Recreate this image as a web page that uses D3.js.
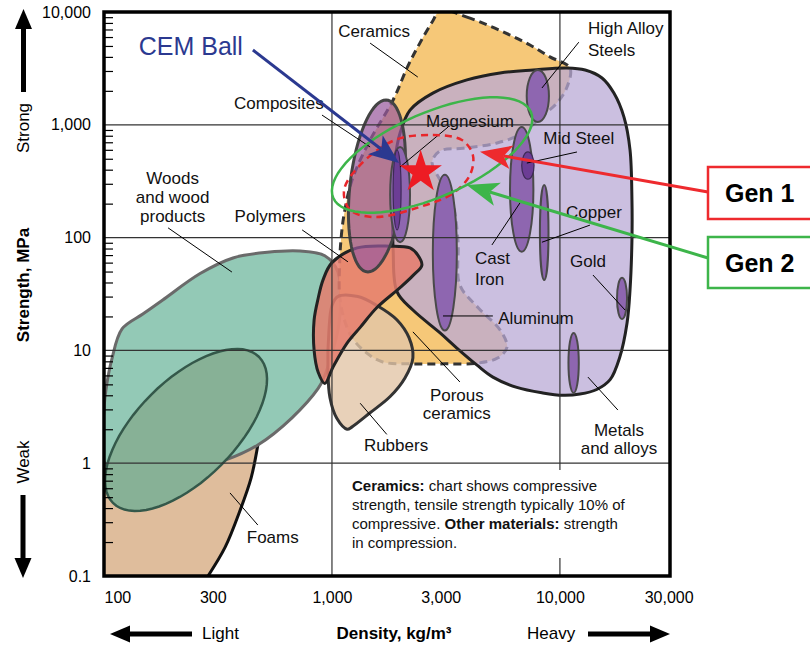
<!DOCTYPE html>
<html>
<head>
<meta charset="utf-8">
<script src="https://cdn.jsdelivr.net/npm/d3@7"></script>
<style>
  body { margin: 0; background: #fff; }
  svg { font-family: "Liberation Sans", Arial, Helvetica, sans-serif; }
</style>
</head>
<body>
<svg id="chart" width="810" height="646"></svg>
<script>
// Axis ticks and grid
const densityTicks = [100, 300, 1000, 3000, 10000, 30000];
const strengthTicks = [0.1, 1, 10, 100, 1000, 10000];
const densityGrid = [1000, 10000];
const strengthGrid = [1, 10, 100, 1000];

// Material regions as [density kg/m3, strength MPa]
const foams = [[100, 1.0], [100, 0.1], [286, 0.1], [340, 0.18], [395, 0.38], [442, 0.74], [473, 1.45], [357, 1.6], [159, 1.3]];
const foamsEdge = [[286, 0.1], [340, 0.18], [395, 0.38], [442, 0.74], [473, 1.45]];
const woods = [[101, 1.0], [100, 3], [103, 5.1], [108, 8.2], [120, 15.5], [148, 21], [181, 28], [264, 48], [368, 66],
  [520, 74], [724, 76], [930, 69], [1060, 50], [1080, 19], [980, 8.2], [870, 4.6], [473, 1.45], [238, 0.87], [130, 0.79]];
const woodsCore = { c: [229, 1.97], a: [479, 8.74], b: [326, 0.96] };
const ceramics = [[3000, 10400], [3910, 9000], [4930, 7500], [6040, 6250], [7390, 5100], [9040, 4000], [11060, 3190],
  [10740, 2160], [9700, 1560], [8170, 1150], [6890, 845], [5300, 690], [3760, 620], [2980, 586], [2750, 468],
  [2980, 324], [3360, 215], [3570, 95], [3640, 38], [4370, 24], [5460, 15.2], [5860, 10.7], [5350, 8.6], [4330, 7.7],
  [3130, 7.6], [2270, 7.6], [1670, 7.9], [1400, 9.7], [1225, 13], [1130, 19], [1080, 31], [1080, 57], [1095, 95],
  [1130, 160], [1225, 324], [1470, 733], [1855, 1660], [2150, 3300], [2430, 5300], [2750, 8150]];
const rubbers = [[1060, 30], [1300, 30], [1575, 25], [1930, 18.6], [2180, 12.9], [2265, 8.6], [2090, 5.7], [1800, 3.9],
  [1470, 2.8], [1225, 2.1], [1165, 2.0], [1050, 2.5], [980, 3.8], [960, 6.7], [970, 15], [1000, 25]];
const metals = [[1990, 845], [2200, 1350], [2770, 1910], [3910, 2500], [5460, 2880], [7620, 3060], [10740, 3190],
  [12900, 3060], [15300, 2600], [17250, 1910], [19100, 1170], [20300, 600], [20700, 215], [20700, 95], [20300, 34.3],
  [19700, 17.5], [18300, 8.7], [16600, 5.5], [14500, 4.5], [12240, 4.1], [10300, 4.0], [8410, 4.2], [6470, 4.7],
  [5080, 5.8], [4330, 7.4], [3530, 10.5], [2980, 14.3], [2265, 22.8], [1930, 33], [1855, 78], [1855, 215], [1890, 490]];
const polymers = [[1000, 60], [1290, 81], [1800, 84], [2200, 81], [2380, 70], [2480, 57], [2265, 46], [1990, 36],
  [1575, 24], [1330, 16], [1165, 11.6], [1010, 7.1], [930, 5.1], [870, 6.4], [835, 10], [835, 18.6], [870, 29], [913, 42]];
const composites = { c: [1575, 287], a: [1725, 1660], b: [2070, 287] };

// Individual metals: density range, strength range
const metalNames = ["High Alloy Steels", "Cast Iron", "Mid Steel", "Copper", "Gold", "Lead", "Aluminum", "Magnesium", "Magnesium core"];
const metalDensity = [[7150, 8950], [6040, 7650], [6800, 7700], [8170, 8910], [17800, 19700], [10900, 12100], [2770, 3530], [1800, 2200], [1855, 2010]];
const metalStrength = [[1060, 3060], [75, 955], [330, 575], [42, 292], [19, 44], [4.2, 14.3], [15, 360], [91, 636], [117, 598]];
const metalDark = [false, false, true, false, false, false, false, false, true];

// Labels: text, density, strength, anchor
const labelLines = [
  ["Ceramics", 1530, 6800, "middle"], ["High Alloy", 13270, 7200, "start"], ["Steels", 13270, 4600, "start"],
  ["Composites", 585, 1560, "middle"], ["Magnesium", 4030, 1080, "middle"], ["Mid Steel", 12100, 765, "middle"],
  ["Copper", 14100, 169, "middle"], ["Cast", 4240, 66, "start"], ["Iron", 4240, 43, "start"],
  ["Gold", 13270, 62, "middle"], ["Aluminum", 7850, 19.4, "middle"], ["Polymers", 535, 155, "middle"],
  ["Woods", 200, 337, "middle"], ["and wood", 200, 229, "middle"], ["products", 200, 155, "middle"],
  ["Foams", 550, 0.22, "middle"], ["Rubbers", 1910, 1.45, "middle"], ["Porous", 3530, 4.0, "middle"],
  ["ceramics", 3530, 2.8, "middle"], ["Metals", 18160, 1.97, "middle"], ["and alloys", 18160, 1.36, "middle"]
];
const pointers = [
  [[1470, 5300], [2380, 2650]], [[12100, 5400], [8340, 2120]], [[904, 1220], [1470, 636]],
  [[3230, 955], [1990, 423]], [[11880, 574], [7160, 458]], [[13540, 129], [8340, 91]],
  [[5030, 86], [6680, 203]], [[13960, 46.6], [19300, 22.8]], [[3070, 20.2], [5080, 20.2]],
  [[740, 117], [1175, 61]], [[191, 122], [364, 49.5]], [[357, 0.545], [473, 0.283]],
  [[1330, 3.4], [1740, 1.8]], [[2265, 14.6], [3640, 5.25]], [[13270, 5.8], [17960, 2.96]]
];

// Design targets
const gen1Zone = [[1890, 733], [2770, 812], [3715, 733], [4150, 540], [4030, 359], [3400, 248], [2430, 187],
  [1545, 152], [1200, 176], [1130, 264], [1330, 440]];
const gen2Zone = { c: [2750, 540], a: [7460, 1300], b: [3260, 246] };
const cemBall = [2450, 380];
const cemArrow = [[450, 4600], [1970, 458]];
const gen1Tip = [4460, 577];
const gen2Tip = [3900, 292];

const plot = { left: 104, top: 12, right: 670, bottom: 576 };
const x = d3.scaleLog().domain([100, 30400]).range([plot.left, plot.right]);
const y = d3.scaleLog().domain([0.1, 10000]).range([plot.bottom, plot.top]);

const svg = d3.select("#chart");
svg.append("defs").append("clipPath").attr("id", "plotClip").append("rect")
  .attr("x", plot.left).attr("y", plot.top)
  .attr("width", plot.right - plot.left).attr("height", plot.bottom - plot.top);

const blob = d3.line().x(d => x(d[0])).y(d => y(d[1])).curve(d3.curveCatmullRomClosed.alpha(0.5));
const poly = d3.line().x(d => x(d[0])).y(d => y(d[1])).curve(d3.curveLinearClosed);
const open = d3.line().x(d => x(d[0])).y(d => y(d[1])).curve(d3.curveCatmullRom.alpha(0.5));

// ellipse from centre and two conjugate semi-diameters, in data space
function conjEllipse(e) {
  const cx = x(e.c[0]), cy = y(e.c[1]);
  const ax = x(e.a[0]) - cx, ay = y(e.a[1]) - cy;
  const bx = x(e.b[0]) - cx, by = y(e.b[1]) - cy;
  const pts = d3.range(72).map(i => {
    const t = i / 72 * 2 * Math.PI;
    return [cx + ax * Math.cos(t) + bx * Math.sin(t), cy + ay * Math.cos(t) + by * Math.sin(t)];
  });
  return d3.line().curve(d3.curveLinearClosed)(pts);
}

const regions = svg.append("g").attr("clip-path", "url(#plotClip)");

regions.append("path").attr("d", poly(foams)).attr("fill", "#dfbd9c");
regions.append("path").attr("d", open(foamsEdge)).attr("fill", "none").attr("stroke", "#111").attr("stroke-width", 3);
regions.append("path").attr("d", blob(woods)).attr("fill", "#93c9b6").attr("stroke", "#6a6a6a").attr("stroke-width", 3);
regions.append("path").attr("d", conjEllipse(woodsCore)).attr("fill", "#87b196").attr("stroke", "#34584a").attr("stroke-width", 2.5);
regions.append("path").attr("d", blob(ceramics)).attr("fill", "#f6c878")
  .attr("stroke", "#333").attr("stroke-width", 3).attr("stroke-dasharray", "8,5");
regions.append("path").attr("d", blob(rubbers)).attr("fill", "#e2c5a7").attr("fill-opacity", 0.8)
  .attr("stroke", "#333").attr("stroke-width", 3);
regions.append("path").attr("d", blob(metals)).attr("fill", "#b9a9d6").attr("fill-opacity", 0.75)
  .attr("stroke", "#222").attr("stroke-width", 3);
regions.append("path").attr("d", blob(polymers)).attr("fill", "#e57d6d").attr("fill-opacity", 0.85)
  .attr("stroke", "#222").attr("stroke-width", 3);
regions.append("path").attr("d", conjEllipse(composites)).attr("fill", "#9a5a9e").attr("fill-opacity", 0.72)
  .attr("stroke", "#444").attr("stroke-width", 3);

regions.selectAll("ellipse.metal")
  .data(metalNames)
  .join("ellipse")
  .attr("class", "metal")
  .attr("cx", (d, i) => (x(metalDensity[i][0]) + x(metalDensity[i][1])) / 2)
  .attr("cy", (d, i) => (y(metalStrength[i][0]) + y(metalStrength[i][1])) / 2)
  .attr("rx", (d, i) => (x(metalDensity[i][1]) - x(metalDensity[i][0])) / 2)
  .attr("ry", (d, i) => (y(metalStrength[i][0]) - y(metalStrength[i][1])) / 2)
  .attr("fill", (d, i) => metalDark[i] ? "#6c3d95" : "#8e66b0")
  .attr("stroke", (d, i) => metalDark[i] ? "#3d2a55" : "#4a4a4a")
  .attr("stroke-width", (d, i) => metalDark[i] ? 1.2 : 2);

// Grid
const grid = svg.append("g").attr("stroke", "#333").attr("stroke-width", 1.2);
grid.selectAll("line.v").data(densityGrid).join("line").attr("class", "v")
  .attr("x1", d => x(d)).attr("x2", d => x(d)).attr("y1", plot.top).attr("y2", plot.bottom);
grid.selectAll("line.h").data(strengthGrid).join("line").attr("class", "h")
  .attr("x1", plot.left).attr("x2", plot.right).attr("y1", d => y(d)).attr("y2", d => y(d));

// Minor ticks on the strength axis
const minorTicks = y.ticks().filter(v => Math.abs(Math.log10(v) - Math.round(Math.log10(v))) > 1e-6);
const minorAxis = svg.append("g").attr("transform", `translate(${plot.left},0)`)
  .call(d3.axisRight(y).tickValues(minorTicks).tickSize(9).tickFormat(""));
minorAxis.select(".domain").remove();
minorAxis.selectAll("line").attr("stroke", "#000").attr("stroke-width", 1.2);

// Frame
svg.append("rect").attr("x", plot.left).attr("y", plot.top)
  .attr("width", plot.right - plot.left).attr("height", plot.bottom - plot.top)
  .attr("fill", "none").attr("stroke", "#000").attr("stroke-width", 3.5);

// Tick labels
const xAxis = svg.append("g").attr("transform", `translate(0,${plot.bottom})`)
  .call(d3.axisBottom(x).tickValues(densityTicks).tickFormat(d3.format(",")).tickSize(0).tickPadding(16));
xAxis.select(".domain").remove();
xAxis.selectAll("text").attr("font-size", 16).attr("fill", "#000").attr("font-family", null);
xAxis.selectAll("text").filter(d => d === 100).attr("text-anchor", "start");

const yAxis = svg.append("g").attr("transform", `translate(${plot.left},0)`)
  .call(d3.axisLeft(y).tickValues(strengthTicks).tickFormat(d3.format(",")).tickSize(0).tickPadding(13));
yAxis.select(".domain").remove();
yAxis.selectAll("text").attr("font-size", 16).attr("fill", "#000").attr("font-family", null);

// Axis titles and direction arrows
svg.append("text").attr("x", 394).attr("y", 639).attr("text-anchor", "middle")
  .attr("font-size", 17).attr("font-weight", "bold").text("Density, kg/m\u00b3");
svg.append("text").attr("x", 202).attr("y", 639).attr("font-size", 17).text("Light");
svg.append("text").attr("x", 527).attr("y", 639).attr("font-size", 17).text("Heavy");
svg.append("text").attr("transform", "translate(29,285) rotate(-90)").attr("text-anchor", "middle")
  .attr("font-size", 17).attr("font-weight", "bold").text("Strength, MPa");
svg.append("text").attr("transform", "translate(29,128) rotate(-90)").attr("text-anchor", "middle")
  .attr("font-size", 17).text("Strong");
svg.append("text").attr("transform", "translate(29,462) rotate(-90)").attr("text-anchor", "middle")
  .attr("font-size", 17).text("Weak");

const dirArrows = svg.append("g").attr("fill", "#000");
dirArrows.append("rect").attr("x", 21).attr("y", 24).attr("width", 5).attr("height", 68);
dirArrows.append("path").attr("d", "M23.5,9L32,29L15,29Z");
dirArrows.append("rect").attr("x", 20.5).attr("y", 495).attr("width", 5).attr("height", 65);
dirArrows.append("path").attr("d", "M23,578L31.5,558L14.5,558Z");
dirArrows.append("rect").attr("x", 125).attr("y", 631.5).attr("width", 67).attr("height", 5);
dirArrows.append("path").attr("d", "M110,634L130,625.5L130,642.5Z");
dirArrows.append("rect").attr("x", 588).attr("y", 631.5).attr("width", 67).attr("height", 5);
dirArrows.append("path").attr("d", "M670,634L650,625.5L650,642.5Z");

// Note box
svg.append("rect").attr("x", 345).attr("y", 470).attr("width", 318).attr("height", 88).attr("fill", "#fff");
const note = svg.append("text").attr("font-size", 15).attr("fill", "#111");
const noteLines = [
  [["Ceramics:", true], [" chart shows compressive", false]],
  [["strength, tensile strength typically 10% of", false]],
  [["compressive. ", false], ["Other materials:", true], [" strength", false]],
  [["in compression.", false]]
];
const noteBase = [491, 510, 529, 548];
noteLines.forEach((line, i) => {
  line.forEach((part, j) => {
    const t = note.append("tspan").text(part[0]).attr("font-weight", part[1] ? "bold" : "normal");
    if (j === 0) t.attr("x", 352).attr("y", noteBase[i]);
  });
});

// Pointer lines and labels
svg.append("g").selectAll("line").data(pointers).join("line")
  .attr("x1", d => x(d[0][0])).attr("y1", d => y(d[0][1]))
  .attr("x2", d => x(d[1][0])).attr("y2", d => y(d[1][1]))
  .attr("stroke", "#000").attr("stroke-width", 1);
svg.append("g").selectAll("text").data(labelLines).join("text")
  .attr("x", d => x(d[1])).attr("y", d => y(d[2])).attr("dy", "0.35em")
  .attr("text-anchor", d => d[3]).attr("font-size", 17).attr("fill", "#111")
  .text(d => d[0]);

// Design targets
const notes = svg.append("g");
notes.append("path").attr("d", blob(gen1Zone)).attr("fill", "none")
  .attr("stroke", "#e8262b").attr("stroke-width", 2.5).attr("stroke-dasharray", "7,5");
notes.append("path").attr("d", conjEllipse(gen2Zone)).attr("fill", "none")
  .attr("stroke", "#3db54a").attr("stroke-width", 2.5);
notes.append("path").attr("d", d3.symbol(d3.symbolStar, 560)())
  .attr("transform", `translate(${x(cemBall[0])},${y(cemBall[1])})`).attr("fill", "#ed1c24");

function arrow(g, x1, y1, x2, y2, color, headLen, headHalf) {
  const dx = x2 - x1, dy = y2 - y1, L = Math.hypot(dx, dy), ux = dx / L, uy = dy / L;
  const bx = x2 - ux * headLen, by = y2 - uy * headLen;
  const nx = x2 - ux * headLen * 0.75, ny = y2 - uy * headLen * 0.75;
  g.append("line").attr("x1", x1).attr("y1", y1).attr("x2", nx).attr("y2", ny)
    .attr("stroke", color).attr("stroke-width", 3);
  g.append("path").attr("fill", color)
    .attr("d", `M${x2},${y2}L${bx - uy * headHalf},${by + ux * headHalf}L${nx},${ny}L${bx + uy * headHalf},${by - ux * headHalf}Z`);
}
arrow(notes, x(cemArrow[0][0]), y(cemArrow[0][1]), x(cemArrow[1][0]), y(cemArrow[1][1]), "#2b3990", 30, 12);
arrow(notes, 708, 192, x(gen1Tip[0]), y(gen1Tip[1]), "#ee2a2e", 32, 12);
arrow(notes, 708, 258, x(gen2Tip[0]), y(gen2Tip[1]), "#3db54a", 32, 12);

notes.append("text").attr("x", x(142)).attr("y", y(5000)).attr("dy", "0.35em")
  .attr("font-size", 25).attr("fill", "#2b3990").text("CEM Ball");

// Generation boxes
notes.append("rect").attr("x", 708).attr("y", 167).attr("width", 120).attr("height", 52)
  .attr("fill", "#fff").attr("stroke", "#ee2a2e").attr("stroke-width", 2.5);
notes.append("text").attr("x", 725).attr("y", 202).attr("font-size", 25).attr("font-weight", "bold").text("Gen 1");
notes.append("rect").attr("x", 708).attr("y", 237).attr("width", 120).attr("height", 51)
  .attr("fill", "#fff").attr("stroke", "#3db54a").attr("stroke-width", 2.5);
notes.append("text").attr("x", 725).attr("y", 272).attr("font-size", 25).attr("font-weight", "bold").text("Gen 2");
</script>
</body>
</html>
